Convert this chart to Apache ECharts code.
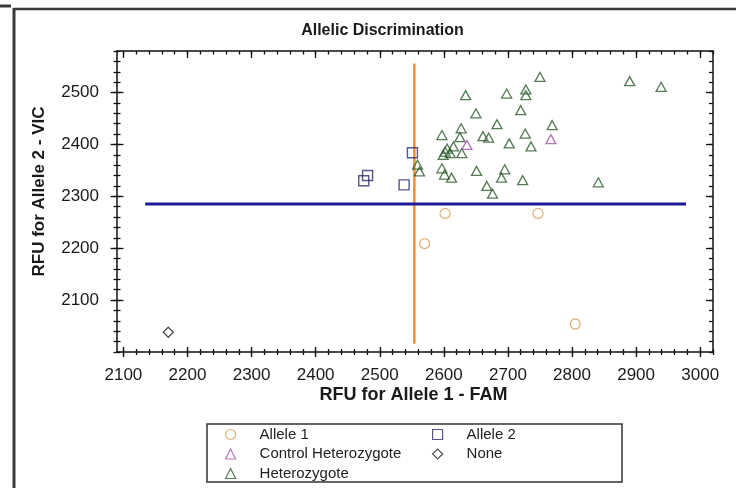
<!DOCTYPE html>
<html>
<head>
<meta charset="utf-8">
<script src="https://cdn.jsdelivr.net/npm/echarts@6/dist/echarts.min.js"></script>
<style>
html,body{margin:0;padding:0;background:#fff;}
#c{width:736px;height:488px;}
</style>
</head>
<body>
<div id="c"></div>
<script>
// ---- data ----
const xTickLabels = [2100, 2200, 2300, 2400, 2500, 2600, 2700, 2800, 2900, 3000];
const yTickLabels = [2100, 2200, 2300, 2400, 2500];

const allele1 = [[2602, 2267], [2747, 2267], [2570, 2209], [2805, 2054]];
const allele2 = [[2551, 2384], [2481, 2340], [2475, 2330], [2538, 2322]];
const controlHet = [[2767, 2410], [2636, 2399]];
const noneCalls = [[2170, 2038]];
const heterozygote = [
  [2750, 2530], [2634, 2495], [2698, 2498], [2728, 2506], [2728, 2495],
  [2890, 2522], [2939, 2511], [2650, 2460], [2720, 2466], [2627, 2431],
  [2683, 2439], [2769, 2437], [2597, 2418], [2625, 2414], [2661, 2416],
  [2670, 2413], [2727, 2421], [2702, 2402], [2736, 2396], [2615, 2396],
  [2605, 2392], [2602, 2386], [2610, 2383], [2599, 2380], [2628, 2383],
  [2597, 2354], [2601, 2342], [2612, 2336], [2651, 2349], [2695, 2352],
  [2690, 2336], [2723, 2331], [2667, 2320], [2676, 2305], [2841, 2327],
  [2559, 2361], [2562, 2348]
];
const verticalCut = [[2554, 2016], [2554, 2556]];
const horizontalCut = [[2134, 2285], [2978, 2285]];

// axis ranges
const xMin = 2090, xMax = 3020, yMin = 2000, yMax = 2580;
const xMinorTicks = [];
for (let v = 2100; v <= 3020; v += 20) xMinorTicks.push(v);
const yMinorTicks = [];
for (let v = 2000; v <= 2580; v += 20) yMinorTicks.push(v);

const FONT = 'Arial, "Liberation Sans", sans-serif';
const chart = echarts.init(document.getElementById('c'), null, {renderer: 'canvas'});

function tickAxis(kind, position, values, len, inside, showLine, labels) {
  const a = {
    type: 'value', gridIndex: 0, position: position,
    min: kind === 'x' ? xMin : yMin, max: kind === 'x' ? xMax : yMax,
    axisLine: {show: showLine, onZero: false, lineStyle: {color: '#111', width: 1.5}},
    axisTick: {show: true, inside: inside, length: len, customValues: values,
      lineStyle: {color: '#111', width: 1.3}},
    splitLine: {show: false},
    minorTick: {show: false},
    axisLabel: {show: false}
  };
  if (labels) {
    a.axisLabel = {show: true, customValues: labels, color: '#1a1a1a',
      formatter: function (v) { return String(v); },
      fontFamily: FONT, fontSize: 17, margin: kind === 'x' ? 15 : 18};
  }
  return a;
}

const legendBase = {
  orient: 'vertical', top: 427, padding: 0, itemGap: 4.5,
  itemWidth: 10, itemHeight: 10,
  textStyle: {fontFamily: FONT, fontSize: 15, color: '#222', lineHeight: 15, padding: [0, 0, 0, 19]},
  itemStyle: {borderWidth: 1.2}
};

const option = {
  backgroundColor: '#fff',
  animation: false,
  grid: {left: 117, top: 51, width: 596, height: 301, outerBoundsMode: 'none', containLabel: false},
  xAxis: [
    tickAxis('x', 'bottom', xTickLabels, 5, false, true, xTickLabels),
    tickAxis('x', 'bottom', xTickLabels, 5, true, false),
    tickAxis('x', 'bottom', xMinorTicks, 3, false, false),
    tickAxis('x', 'bottom', xMinorTicks, 3, true, false),
    tickAxis('x', 'top', xTickLabels, 7, true, true),
    tickAxis('x', 'top', xMinorTicks, 3.5, true, false)
  ],
  yAxis: [
    tickAxis('y', 'left', yTickLabels, 6.5, false, true, yTickLabels),
    tickAxis('y', 'left', yTickLabels, 6.5, true, false),
    tickAxis('y', 'left', yMinorTicks, 3.5, false, false),
    tickAxis('y', 'left', yMinorTicks, 3.5, true, false),
    tickAxis('y', 'right', yTickLabels, 7, true, true),
    tickAxis('y', 'right', yMinorTicks, 4, true, false)
  ],
  legend: [
    Object.assign({}, legendBase, {left: 225, data: ['Allele 1', 'Control Heterozygote', 'Heterozygote']}),
    Object.assign({}, legendBase, {left: 432, data: ['Allele 2', 'None']})
  ],
  series: [
    {type: 'line', data: verticalCut, symbol: 'none', silent: true,
      lineStyle: {color: '#e8913c', width: 2.5}, z: 1},
    {type: 'line', data: horizontalCut, symbol: 'none', silent: true,
      lineStyle: {color: '#1a1a9a', width: 3}, z: 1},
    {name: 'Heterozygote', type: 'scatter', data: heterozygote, symbol: 'triangle', symbolSize: [10, 9],
      itemStyle: {color: 'rgba(255,255,255,0)', borderColor: '#2a5a2a', borderWidth: 1.3}, z: 3},
    {name: 'Control Heterozygote', type: 'scatter', data: controlHet, symbol: 'triangle', symbolSize: [10, 9],
      itemStyle: {color: 'rgba(255,255,255,0)', borderColor: '#a050a8', borderWidth: 1.3}, z: 4},
    {name: 'Allele 2', type: 'scatter', data: allele2, symbol: 'rect', symbolSize: 10,
      itemStyle: {color: 'rgba(255,255,255,0)', borderColor: '#2c2c6c', borderWidth: 1.4}, z: 4},
    {name: 'Allele 1', type: 'scatter', data: allele1, symbol: 'circle', symbolSize: 10,
      itemStyle: {color: 'rgba(255,255,255,0)', borderColor: '#d9a05a', borderWidth: 1.3}, z: 4},
    {name: 'None', type: 'scatter', data: noneCalls, symbol: 'diamond', symbolSize: 10,
      itemStyle: {color: 'rgba(255,255,255,0)', borderColor: '#222', borderWidth: 1.3}, z: 4}
  ],
  graphic: [
    {type: 'line', shape: {x1: 14, y1: 8, x2: 14, y2: 488}, style: {stroke: '#3a3a3a', lineWidth: 3}, silent: true},
    {type: 'line', shape: {x1: 13, y1: 9, x2: 736, y2: 9}, style: {stroke: '#3a3a3a', lineWidth: 2.5}, silent: true},
    {type: 'line', shape: {x1: 0, y1: 6, x2: 11, y2: 6}, style: {stroke: '#3a3a3a', lineWidth: 3}, silent: true},
    {type: 'text', x: 382.5, y: 31, style: {text: 'Allelic Discrimination', fontFamily: FONT,
      fontSize: 16, fontWeight: 'bold', fill: '#1a1a1a', align: 'center', verticalAlign: 'middle'}},
    {type: 'text', x: 413.5, y: 395, style: {text: 'RFU for Allele 1 - FAM', fontFamily: FONT,
      fontSize: 18, fontWeight: 'bold', fill: '#1a1a1a', align: 'center', verticalAlign: 'middle'}},
    {type: 'text', x: 39.5, y: 191.5, rotation: Math.PI / 2, style: {text: 'RFU for Allele 2 - VIC', fontFamily: FONT,
      fontSize: 17, fontWeight: 'bold', fill: '#1a1a1a', align: 'center', verticalAlign: 'middle'}},
    {type: 'rect', shape: {x: 207, y: 424, width: 415, height: 58}, style: {fill: 'none', stroke: '#333', lineWidth: 1.5}, silent: true}
  ]
};
chart.setOption(option);
</script>
</body>
</html>
